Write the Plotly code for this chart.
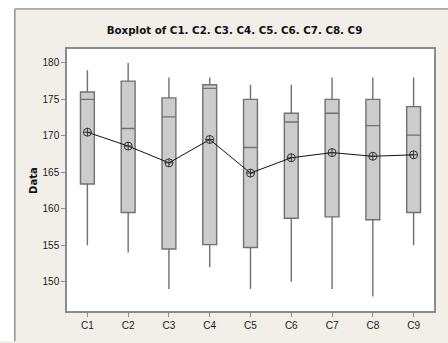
import plotly.graph_objects as go

# Summary statistics per column
columns = ["C1", "C2", "C3", "C4", "C5", "C6", "C7", "C8", "C9"]
minimum = [155.0, 154.0, 149.0, 152.0, 149.0, 150.0, 149.0, 148.0, 155.0]
q1 = [163.4, 159.5, 154.5, 155.1, 154.7, 158.7, 158.9, 158.5, 159.5]
median = [175.0, 171.0, 172.6, 176.5, 168.4, 171.9, 173.1, 171.4, 170.1]
q3 = [176.0, 177.5, 175.2, 177.0, 175.0, 173.1, 175.0, 175.0, 174.0]
maximum = [179.0, 180.0, 178.0, 178.0, 177.0, 177.0, 178.0, 178.0, 178.0]
means = [170.5, 168.6, 166.3, 169.5, 164.9, 167.0, 167.7, 167.2, 167.4]

y_ticks = [150, 155, 160, 165, 170, 175, 180]

W, H = 448, 343
ML, MR, MT, MB = 67, 12, 49, 26
PW, PH = W - ML - MR, H - MT - MB


def px_x(p):
    return (p - ML) / PW


def px_y(p):
    return (H - MB - p) / PH


fig = go.Figure()

fig.add_trace(go.Box(
    x=columns,
    q1=q1,
    median=median,
    q3=q3,
    lowerfence=minimum,
    upperfence=maximum,
    boxpoints=False,
    whiskerwidth=0,
    width=0.34,
    fillcolor="#cccccc",
    line=dict(color="#707070", width=1.4),
    showlegend=False,
    hoverinfo="skip",
))

fig.add_trace(go.Scatter(
    x=columns,
    y=means,
    mode="lines+markers",
    line=dict(color="#111111", width=1),
    marker=dict(symbol="circle-cross-open", size=8,
                color="#333333", line=dict(width=1, color="#333333")),
    showlegend=False,
    hoverinfo="skip",
))

shapes = [
    # white strip on the left and top of the window frame
    dict(type="rect", xref="paper", yref="paper", layer="below",
         x0=px_x(-5), x1=px_x(14), y0=px_y(H + 5), y1=px_y(-5),
         fillcolor="white", line=dict(width=0)),
    dict(type="rect", xref="paper", yref="paper", layer="below",
         x0=px_x(-5), x1=px_x(W + 5), y0=px_y(8), y1=px_y(-5),
         fillcolor="white", line=dict(width=0)),
    # frame edges
    dict(type="line", xref="paper", yref="paper",
         x0=px_x(14.5), x1=px_x(14.5), y0=px_y(8), y1=px_y(H + 5),
         line=dict(color="#8a8a86", width=1.4)),
    dict(type="line", xref="paper", yref="paper",
         x0=px_x(14.5), x1=px_x(W + 5), y0=px_y(8), y1=px_y(8),
         line=dict(color="#8a8a86", width=1.4)),
]

tick_font = dict(family="Liberation Sans", size=10, color="#1a1a1a")

fig.update_layout(
    width=W,
    height=H,
    margin=dict(l=ML, r=MR, t=MT, b=MB),
    paper_bgcolor="#f2eee8",
    plot_bgcolor="white",
    shapes=shapes,
    title=dict(
        text="<b>Boxplot of C1. C2. C3. C4. C5. C6. C7. C8. C9</b>",
        x=234.5 / W, xanchor="center",
        y=1 - 30.5 / H, yanchor="middle",
        font=dict(family="DejaVu Sans", size=10.3, color="#111111"),
    ),
    annotations=[dict(
        text="<b>Data</b>", xref="paper", yref="paper",
        x=px_x(32.7), y=0.5, textangle=-90, showarrow=False,
        xanchor="center", yanchor="middle",
        font=dict(family="DejaVu Sans", size=10, color="#111111"),
    )],
    xaxis=dict(
        range=[-0.5, 8.5],
        showgrid=False, zeroline=False,
        showline=True, linecolor="#8c8c8c", linewidth=1.5, mirror=True,
        ticks="outside", ticklen=4, tickcolor="#8c8c8c",
        tickfont=tick_font,
    ),
    yaxis=dict(
        range=[146.0, 181.9],
        tickvals=y_ticks,
        showgrid=False, zeroline=False,
        showline=True, linecolor="#8c8c8c", linewidth=1.5, mirror=True,
        ticks="outside", ticklen=4, tickcolor="#8c8c8c",
        tickfont=tick_font,
    ),
)

fig.write_html("out.html")
